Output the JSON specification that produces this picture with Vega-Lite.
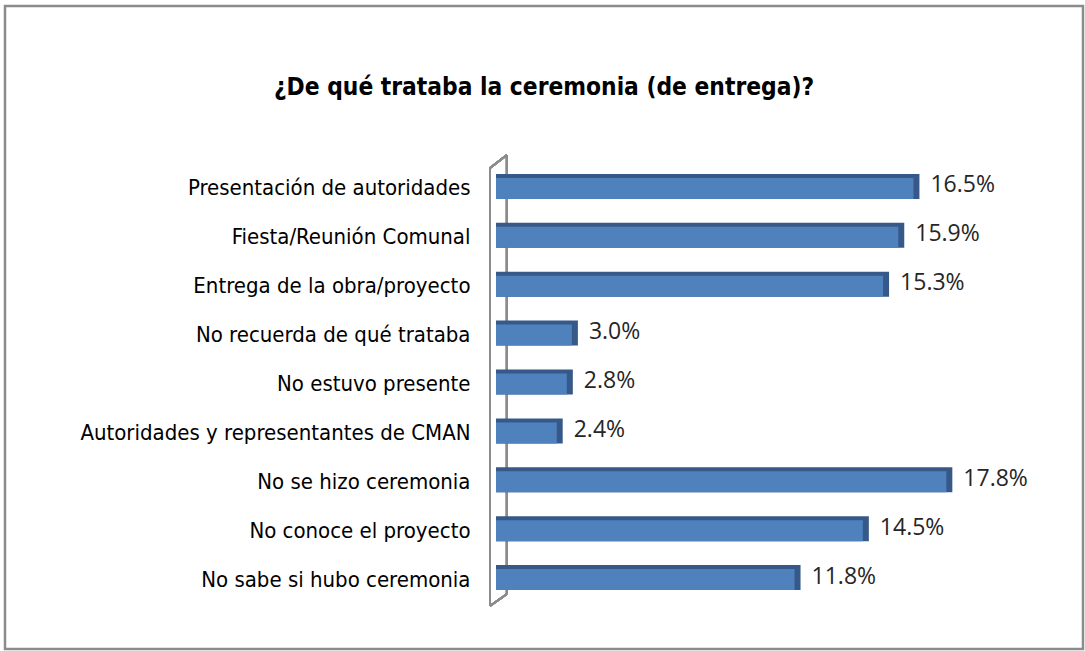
{
  "$schema": "https://vega.github.io/schema/vega-lite/v6.json",
  "width": 1078,
  "height": 643,
  "autosize": "none",
  "padding": {"left": 5, "top": 6, "right": 2, "bottom": 2},
  "background": "white",
  "config": {
    "view": {"stroke": "#8c8c8c", "strokeWidth": 2.5},
    "font": "DejaVu Sans Condensed"
  },
  "title": {
    "text": "¿De qué trataba la ceremonia (de entrega)?",
    "font": "DejaVu Sans Condensed",
    "fontSize": 24.3,
    "fontWeight": "bold",
    "color": "#000000",
    "anchor": "middle",
    "offset": -113,
    "baseline": "alphabetic"
  },
  "data": {
    "values": [
      {"categoria": "Presentación de autoridades", "valor": 0.165},
      {"categoria": "Fiesta/Reunión Comunal", "valor": 0.159},
      {"categoria": "Entrega de la obra/proyecto", "valor": 0.153},
      {"categoria": "No recuerda de qué trataba", "valor": 0.030},
      {"categoria": "No estuvo presente", "valor": 0.028},
      {"categoria": "Autoridades y representantes de CMAN", "valor": 0.024},
      {"categoria": "No se hizo ceremonia", "valor": 0.178},
      {"categoria": "No conoce el proyecto", "valor": 0.145},
      {"categoria": "No sabe si hubo ceremonia", "valor": 0.118}
    ]
  },
  "encoding": {
    "y": {
      "field": "categoria",
      "type": "nominal",
      "sort": null,
      "scale": {
        "domain": ["Presentación de autoridades", "Fiesta/Reunión Comunal", "Entrega de la obra/proyecto", "No recuerda de qué trataba", "No estuvo presente", "Autoridades y representantes de CMAN", "No se hizo ceremonia", "No conoce el proyecto", "No sabe si hubo ceremonia"],
        "range": [158, 598], "paddingInner": 0, "paddingOuter": 0
      },
      "axis": {
        "title": null,
        "domain": false,
        "ticks": false,
        "offset": -485,
        "labelPadding": 20,
        "labelFont": "DejaVu Sans Condensed",
        "labelFontSize": 22,
        "labelColor": "#000000",
        "labelLimit": 500
      }
    }
  },
  "layer": [
    {
      "mark": {"type": "rule", "color": "#8c8c8c", "strokeWidth": 2, "yOffset": -33.5, "y2Offset": 14.4},
      "encoding": {
        "x": {"datum": 0.0043, "type": "quantitative", "scale": {"domain": [-0.19407, 0.23202], "zero": false, "nice": false}, "axis": null},
        "y": {"datum": "Presentación de autoridades", "type": "nominal"},
        "y2": {"datum": "No sabe si hubo ceremonia"}
      }
    },
    {
      "mark": {"type": "rule", "color": "#8c8c8c", "strokeWidth": 2, "yOffset": -20.5, "y2Offset": 26.4},
      "encoding": {
        "x": {"datum": -0.00237, "type": "quantitative"},
        "y": {"datum": "Presentación de autoridades", "type": "nominal"},
        "y2": {"datum": "No sabe si hubo ceremonia"}
      }
    },
    {
      "mark": {"type": "rule", "color": "#8c8c8c", "strokeWidth": 2, "yOffset": -20.5, "y2Offset": -33.5},
      "encoding": {
        "x": {"datum": -0.00237, "type": "quantitative"},
        "x2": {"datum": 0.0043},
        "y": {"datum": "Presentación de autoridades", "type": "nominal"},
        "y2": {"datum": "Presentación de autoridades"}
      }
    },
    {
      "mark": {"type": "rule", "color": "#8c8c8c", "strokeWidth": 2, "yOffset": 26.4, "y2Offset": 14.4},
      "encoding": {
        "x": {"datum": -0.00237, "type": "quantitative"},
        "x2": {"datum": 0.0043},
        "y": {"datum": "No sabe si hubo ceremonia", "type": "nominal"},
        "y2": {"datum": "No sabe si hubo ceremonia"}
      }
    },
    {
      "mark": {"type": "bar", "color": "#36598a", "height": 25, "yOffset": -2, "xOffset": 6},
      "encoding": {
        "x": {"field": "valor", "type": "quantitative"},
        "x2": {"datum": 0}
      }
    },
    {
      "mark": {"type": "bar", "color": "#4f81bd", "height": 21},
      "encoding": {
        "x": {"field": "valor", "type": "quantitative"},
        "x2": {"datum": 0}
      }
    },
    {
      "mark": {"type": "text", "align": "left", "baseline": "middle", "dx": 17, "dy": -3, "font": "Open Sans", "fontSize": 23, "color": "#262626"},
      "encoding": {
        "x": {"field": "valor", "type": "quantitative"},
        "text": {"field": "valor", "type": "quantitative", "format": ".1%"}
      }
    }
  ]
}
